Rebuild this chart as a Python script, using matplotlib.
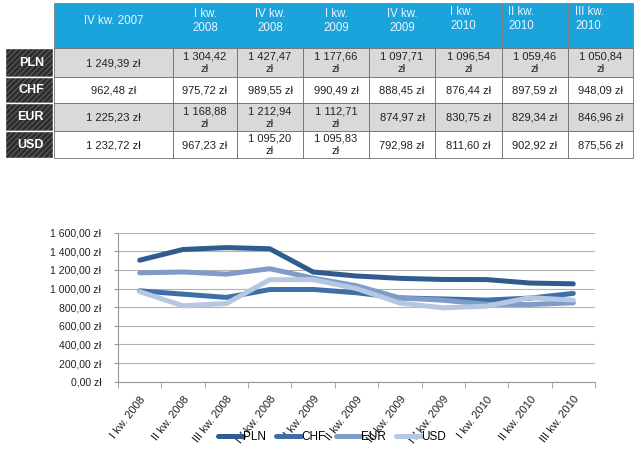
import matplotlib
matplotlib.use("Agg")
import matplotlib.pyplot as plt
from matplotlib.patches import Rectangle

plt.rcParams['font.family'] = ['Liberation Sans', 'DejaVu Sans']

# table data
table_cols = ["IV kw. 2007", "I kw.\n2008", "IV kw.\n2008", "I kw.\n2009", "IV kw.\n2009",
              "I kw.\n2010", "II kw.\n2010", "III kw.\n2010"]
table_rows = ["PLN", "CHF", "EUR", "USD"]
table_cells = [
    ["1 249,39 zł", "1 304,42\nzł", "1 427,47\nzł", "1 177,66\nzł", "1 097,71\nzł", "1 096,54\nzł", "1 059,46\nzł", "1 050,84\nzł"],
    ["962,48 zł", "975,72 zł", "989,55 zł", "990,49 zł", "888,45 zł", "876,44 zł", "897,59 zł", "948,09 zł"],
    ["1 225,23 zł", "1 168,88\nzł", "1 212,94\nzł", "1 112,71\nzł", "874,97 zł", "830,75 zł", "829,34 zł", "846,96 zł"],
    ["1 232,72 zł", "967,23 zł", "1 095,20\nzł", "1 095,83\nzł", "792,98 zł", "811,60 zł", "902,92 zł", "875,56 zł"],
]

# chart data
quarters = ["I kw. 2008", "II kw. 2008", "III kw. 2008", "IV kw. 2008", "I kw. 2009", "II kw. 2009",
            "III kw. 2009", "IV kw. 2009", "I kw. 2010", "II kw. 2010", "III kw. 2010"]
pln = [1304.42, 1420, 1440, 1427.47, 1177.66, 1135, 1110, 1097.71, 1096.54, 1059.46, 1050.84]
chf = [975.72, 940, 905, 989.55, 990.49, 955, 900, 888.45, 876.44, 897.59, 948.09]
eur = [1168.88, 1178, 1155, 1212.94, 1112.71, 1030, 900, 874.97, 830.75, 829.34, 846.96]
usd = [967.23, 815, 840, 1095.20, 1095.83, 1000, 845, 792.98, 811.60, 902.92, 875.56]

W, H = 640, 454
fig = plt.figure(figsize=(6.4, 4.54), dpi=100)

# ---- table drawn in pixel coordinates
tax = fig.add_axes([0, 0, 1, 1])
tax.set_xlim(0, W)
tax.set_ylim(H, 0)
tax.axis('off')

col_x = [54, 173, 237, 303, 369, 435, 502, 568, 633]
row_y = [3, 48, 77, 103, 131, 158]
label_x = (5, 53)
header_align = ['center'] * 5 + ['left'] * 3
header_pad = [0, 0, 0, 0, 0, 15, 6, 7]

for j, name in enumerate(table_cols):
    x0, x1 = col_x[j], col_x[j + 1]
    tax.add_patch(Rectangle((x0, row_y[0]), x1 - x0, row_y[1] - row_y[0],
                            facecolor='#1ba3db', edgecolor='#7f7f7f', lw=0.6))
    if header_align[j] == 'center':
        tax.text((x0 + x1) / 2, row_y[0] + 18, name, ha='center', va='center',
                 color='#e8f6ff', fontsize=8.3, linespacing=1.25)
    else:
        tax.text(x0 + header_pad[j], row_y[0] + 3, name, ha='left', va='top',
                 color='#e8f6ff', fontsize=8.3, linespacing=1.25)

for i, rname in enumerate(table_rows):
    y0, y1 = row_y[i + 1], row_y[i + 2]
    tax.add_patch(Rectangle((label_x[0], y0), label_x[1] - label_x[0], y1 - y0,
                            facecolor='#2b2b2b', edgecolor='#555555', hatch='//////', lw=0.0))
    tax.add_patch(Rectangle((label_x[0], y0), label_x[1] - label_x[0], y1 - y0,
                            facecolor='none', edgecolor='white', lw=1.0))
    tax.text(label_x[1] - 9, (y0 + y1) / 2, rname, ha='right', va='center',
             color='white', fontsize=9, fontweight='bold')
    bg = '#d9d9d9' if i % 2 == 0 else 'white'
    for j in range(len(table_cols)):
        x0, x1 = col_x[j], col_x[j + 1]
        tax.add_patch(Rectangle((x0, y0), x1 - x0, y1 - y0, facecolor=bg,
                                edgecolor='#6f6f6f', lw=0.6))
        tax.text((x0 + x1) / 2, (y0 + y1) / 2 + 0.5, table_cells[i][j], ha='center',
                 va='center', color='#222222', fontsize=8, linespacing=1.3)

# ---- line chart
ax = fig.add_axes([118 / W, (H - 381.7) / H, (595 - 118) / W, (381.7 - 232.7) / H])
x = list(range(len(quarters)))
series = [("PLN", pln, '#2f5b8e'), ("CHF", chf, '#3f6ea9'),
          ("EUR", eur, '#7f9cc8'), ("USD", usd, '#b6c7e1')]
for name, vals, col in series:
    ax.plot(x, vals, color=col, lw=3.6, label=name, solid_joinstyle='round',
            solid_capstyle='round')

ax.set_ylim(0, 1600)
ax.set_xlim(-0.5, len(quarters) - 0.5)
ax.set_yticks(range(0, 1601, 200))
ax.set_yticklabels([f"{v:,}".replace(",", " ") + ",00 zł" for v in range(0, 1601, 200)],
                   fontsize=7.6, color='#222222')
ax.grid(axis='y', color='#b3b3b3', lw=0.8)
ax.set_axisbelow(True)
for s in ['top', 'right']:
    ax.spines[s].set_visible(False)
ax.spines['left'].set_color('#999999')
ax.spines['bottom'].set_color('#999999')
ax.tick_params(axis='y', length=3, color='#999999', pad=9)

ax.set_xticks(x)
ax.set_xticklabels(quarters, rotation=52, ha='right', rotation_mode='anchor',
                   fontsize=8, color='#222222')
ax.tick_params(axis='x', length=0, pad=9)
ax.set_xticks([v - 0.5 for v in range(len(quarters) + 1)], minor=True)
ax.tick_params(axis='x', which='minor', length=4, color='#999999')

fig.legend(loc='center', bbox_to_anchor=(332 / W, 17 / H), ncol=4, frameon=False,
           fontsize=8.5, handlelength=2.1, handletextpad=0.0, columnspacing=0.9)

fig.savefig("out.png", dpi=100)
